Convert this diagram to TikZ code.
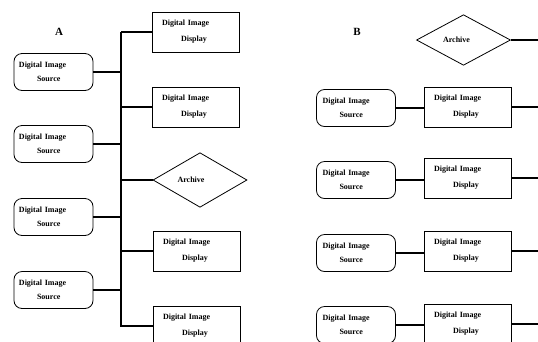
\documentclass[tikz,border=0pt]{standalone}
\usepackage{fontspec}
\setmainfont{Liberation Serif}
\usetikzlibrary{shapes.geometric}
\begin{document}
\begin{tikzpicture}[x=1pt,y=-1pt,
  box/.style={draw, line width=0.8pt, inner ysep=0pt, align=left},
  disp/.style={box, minimum width=87, minimum height=40, inner xsep=10pt, text width=67pt,
    font=\bfseries\fontsize{8}{16}\selectfont},
  src/.style={box, rounded corners=8pt, minimum width=79, minimum height=37, inner xsep=5pt, text width=69pt,
    font=\bfseries\fontsize{8}{13.5}\selectfont},
  arch/.style={draw, line width=0.8pt, diamond, minimum width=94, minimum height=50, inner sep=1pt,
    font=\bfseries\fontsize{8}{9}\selectfont},
  conn/.style={line width=2.2pt},
  bus/.style={line width=2.6pt},
  lab/.style={font=\bfseries\fontsize{11}{13}\selectfont}
]
\clip (0,0) rectangle (538,341);
\fill[white] (0,0) rectangle (538,341);

% ---------- Panel A ----------
\node[lab] (labA) at (59,32) {A};
\coordinate (busTop) at (121,32);
\coordinate (busBot) at (121,327);
\draw[bus] (busTop) -- (busBot);

\node[src] (aS1) at (53.5,72) {Digital Image\\\hspace*{18pt}Source};
\node[src] (aS2) at (53.5,144) {Digital Image\\\hspace*{18pt}Source};
\node[src] (aS3) at (53.5,217) {Digital Image\\\hspace*{18pt}Source};
\node[src] (aS4) at (53.5,290) {Digital Image\\\hspace*{18pt}Source};

\node[disp] (aD1) at (195.5,32) {Digital Image\\\hspace*{19pt}Display};
\node[disp] (aD2) at (195.5,107) {Digital Image\\\hspace*{19pt}Display};
\node[arch] (aAr) at (200,180) {Archive\hspace*{18pt}};
\node[disp] (aD4) at (196.5,251) {Digital Image\\\hspace*{19pt}Display};
\node[disp] (aD5) at (196.5,326) {Digital Image\\\hspace*{19pt}Display};

\foreach \n in {aS1,aS2,aS3,aS4}
  \draw[conn] (\n.east) -- (\n.east -| busTop);
\foreach \n in {aD1,aD2,aD4,aD5}
  \draw[conn] (\n.west -| busTop) -- (\n.west);
\draw[conn] (aAr.west -| busTop) -- (aAr.west);

% ---------- Panel B ----------
\node[lab] (labB) at (357,32) {B};

\node[arch] (bAr) at (463.5,40) {Archive\hspace*{14pt}};
\coordinate (bE0) at (538,40);
\draw[conn] (bAr.east) -- (bE0);

\node[src] (bS1) at (356,108) {\hspace*{1pt}Digital Image\\\hspace*{18pt}Source};
\node[src] (bS2) at (356,180) {\hspace*{1pt}Digital Image\\\hspace*{18pt}Source};
\node[src] (bS3) at (356,253) {\hspace*{1pt}Digital Image\\\hspace*{18pt}Source};
\node[src] (bS4) at (356,325) {\hspace*{1pt}Digital Image\\\hspace*{18pt}Source};

\node[disp] (bD1) at (467.5,107) {Digital Image\\\hspace*{19pt}Display};
\node[disp] (bD2) at (467.5,178) {Digital Image\\\hspace*{19pt}Display};
\node[disp] (bD3) at (467.5,251) {Digital Image\\\hspace*{19pt}Display};
\node[disp] (bD4) at (467.5,324) {Digital Image\\\hspace*{19pt}Display};

\coordinate (bE1) at (538,107);
\coordinate (bE2) at (538,178);
\coordinate (bE3) at (538,251);
\coordinate (bE4) at (538,324);

\foreach \i in {1,2,3,4} {
  \draw[conn] (bS\i.east) -- (bS\i.east -| bD\i.west);
  \draw[conn] (bD\i.east) -- (bE\i);
}
\end{tikzpicture}
\end{document}
